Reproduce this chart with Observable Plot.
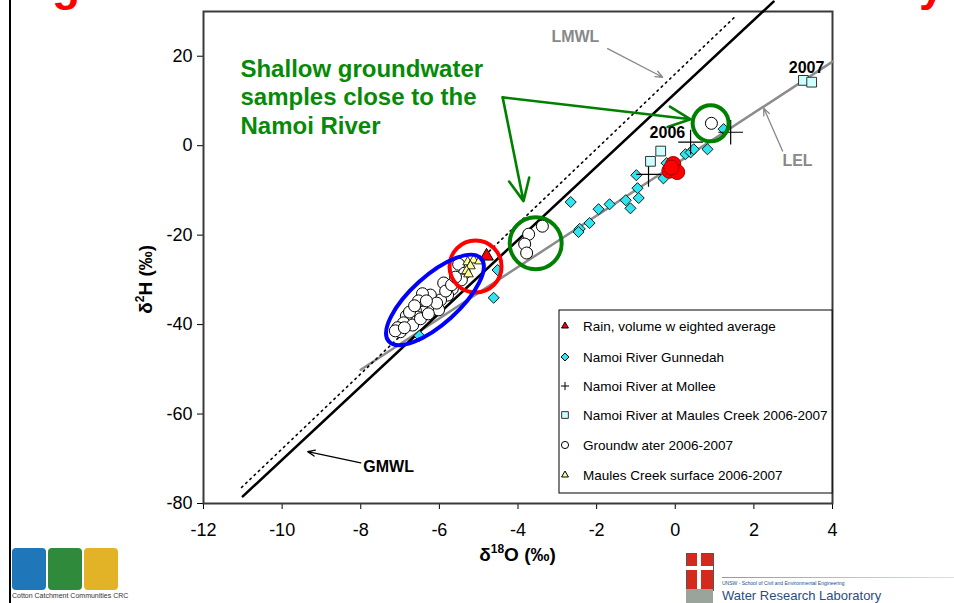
<!DOCTYPE html>
<html>
<head>
<meta charset="utf-8">
<script src="https://cdn.jsdelivr.net/npm/d3@7"></script>
<script src="https://cdn.jsdelivr.net/npm/@observablehq/plot@0.6"></script>
<style>
html,body{margin:0;padding:0;background:#fff;width:954px;height:603px;overflow:hidden;position:relative;font-family:"Liberation Sans",Arial,sans-serif}
#chart{position:absolute;left:0;top:0;width:954px;height:603px}
.slideline{position:absolute;left:9px;top:0;width:2px;height:603px;background:#000}
.frag{position:absolute;color:#ff0000;font-weight:bold;font-size:46px;line-height:46px}
.logo{position:absolute;border-radius:4px}
.cap{position:absolute;font-size:7px;color:#1b4f8a;white-space:nowrap}
</style>
</head>
<body>
<div class="slideline"></div>
<div class="frag" style="left:52px;top:-39px">g</div>
<div class="frag" style="left:919px;top:-39px">y</div>
<div id="chart"></div>
<div class="logo" style="left:12px;top:548px;width:34px;height:42px;background:#1f76b8"></div>
<div class="logo" style="left:48px;top:548px;width:34px;height:42px;background:#2f8a3c"></div>
<div class="logo" style="left:84px;top:548px;width:34px;height:42px;background:#e2b227"></div>
<div class="cap" style="left:12px;top:592px;font-size:7px;color:#333">Cotton Catchment Communities CRC</div>
<div style="position:absolute;left:686px;top:553px;width:26px;height:36px;background:#d42a1e;border:1px solid #555"></div>
<div style="position:absolute;left:697px;top:553px;width:4px;height:36px;background:#fff"></div>
<div style="position:absolute;left:686px;top:566px;width:27px;height:4px;background:#fff"></div>
<div style="position:absolute;left:686px;top:589px;width:27px;height:14px;background:#9aa49a"></div>
<div style="position:absolute;left:722px;top:577px;width:232px;height:1px;background:linear-gradient(to right,#8899bb,#dde)"></div>
<div class="cap" style="left:722px;top:580px;font-size:5px">UNSW - School of Civil and Environmental Engineering</div>
<div class="cap" style="left:722px;top:588px;font-size:13px;color:#2a4d80">Water Research Laboratory</div>
<script>
// ---- axis ticks ----
const xTicks = [-12, -10, -8, -6, -4, -2, 0, 2, 4];
const yTicks = [-80, -60, -40, -20, 0, 20];

// ---- reference lines ----
const gmwlX = [-11, 2.5];     const gmwlY = [-78.4, 32.2];
const lmwlX = [-11.03, 1.53]; const lmwlY = [-76.4, 28.9];
const lelX  = [-8.0, 4.0];    const lelY  = [-50.1, 18.8];

// ---- series ----
const rainAvgX = [-4.8]; const rainAvgY = [-24.7];
const rainSampX = [-0.05, -0.15, 0.05, -0.1];
const rainSampY = [-4.1, -5.6, -5.9, -4.9];
const gunX = [-6.51,-4.62,-4.52,-2.66,-2.43,-2.46,-2.18,-1.95,-1.67,-1.26,-1.14,-0.96,-0.93,-0.99,-0.30,-0.22,0.26,0.39,0.47,0.82,1.23];
const gunY = [-42.5,-34.0,-27.8,-12.6,-18.6,-19.3,-17.3,-14.2,-13.1,-12.2,-14.0,-9.5,-11.7,-6.6,-7.3,-3.9,-1.9,-1.5,-0.8,-0.8,3.7];
const molX = [-0.68, 0.39, 1.41];
const molY = [-6.4, 0.8, 3.0];
const mcX = [-0.37, -0.63, 3.26, 3.47];
const mcY = [-1.2, -3.5, 14.6, 14.2];
const gwX = [-5.51,-5.36,-5.44,-5.89,-5.67,-5.79,-5.97,-6.23,-6.43,-6.15,-6.02,-6.30,-6.40,-6.61,-6.56,-6.73,-6.84,-6.91,-7.06,-6.99,-7.12,-6.68,-6.48,-6.28,-6.07,-5.84,-5.69,-5.59,-6.53,-6.76,-6.89,-6.63,-6.33,-3.38,-3.73,-3.83,-3.78,0.92];
const gwY = [-26.5,-28.5,-30.0,-30.7,-32.0,-33.4,-34.5,-33.4,-33.1,-35.8,-36.7,-36.3,-37.2,-36.9,-38.3,-39.2,-38.1,-39.6,-40.7,-41.6,-41.4,-40.1,-38.7,-37.6,-35.2,-32.5,-31.1,-29.4,-34.7,-37.2,-40.7,-35.8,-34.7,-18.0,-19.8,-22.0,-24.0,5.0];
const sfX = [-5.28,-5.13,-4.98,-5.21,-5.31,-5.26];
const sfY = [-26.0,-25.6,-25.8,-26.9,-28.0,-28.7];

// ---- legend labels ----
const legendLabels = [
  "Rain, volume w eighted average",
  "Namoi River Gunnedah",
  "Namoi River at Mollee",
  "Namoi River at Maules Creek 2006-2007",
  "Groundw ater 2006-2007",
  "Maules Creek surface 2006-2007"
];

// ---- annotations ----
const noteText = ["LMWL", "LEL", "GMWL", "2006", "2007"];
const noteX = [-2.54, 3.11, -7.29, -0.2, 3.34];
const noteY = [24.4, -3.5, -71.7, 2.8, 17.5];
const noteColor = ["#888888", "#888888", "#000000", "#000000", "#000000"];
const calloutText = "Shallow groundwater\nsamples close to the\nNamoi River";

const rows = (xs, ys) => xs.map((x, i) => ({x, y: ys[i]}));
const notes = noteText.map((t, i) => ({t, x: noteX[i], y: noteY[i], c: noteColor[i]}));

const font = '"Liberation Sans", Arial, sans-serif';

const chart = Plot.plot({
  width: 954, height: 603,
  marginLeft: 203, marginRight: 122, marginTop: 11, marginBottom: 100,
  style: {fontFamily: font, fontSize: "18px", color: "#000", background: "transparent", overflow: "visible"},
  x: {domain: [-12, 4], ticks: xTicks, tickSize: 6, tickPadding: 14, tickFormat: d => String(d), label: null},
  y: {domain: [-80, 30], ticks: yTicks, tickSize: 6, tickPadding: 5, tickFormat: d => String(d), label: null},
  marks: [
    Plot.frame({stroke: "#3a3a3a", strokeWidth: 2}),
    Plot.line(rows(lelX, lelY), {x: "x", y: "y", stroke: "#8c8c8c", strokeWidth: 2.5}),
    Plot.line(rows(lmwlX, lmwlY), {x: "x", y: "y", stroke: "#000", strokeWidth: 1.6, strokeDasharray: "1.6,4.2"}),
    Plot.line(rows(gmwlX, gmwlY), {x: "x", y: "y", stroke: "#000", strokeWidth: 2.6}),
    Plot.dot(rows(gunX, gunY), {x: "x", y: "y", symbol: "diamond2", r: 5, fill: "#2ee6f0", stroke: "#1a1a1a", strokeWidth: 1}),
    Plot.dot(rows(molX, molY), {x: "x", y: "y", symbol: "plus", r: 8, stroke: "#000", strokeWidth: 1.2}),
    Plot.dot(rows(mcX, mcY), {x: "x", y: "y", symbol: "square", r: 5.5, fill: "#ccffff", stroke: "#333", strokeWidth: 1}),
    Plot.dot(rows(gwX, gwY), {x: "x", y: "y", symbol: "circle", r: 6, fill: "#fff", stroke: "#000", strokeWidth: 1}),
    Plot.dot(rows(rainSampX, rainSampY), {x: "x", y: "y", symbol: "circle", r: 7.5, fill: "#ff0000", stroke: "#a00000", strokeWidth: 1}),
    Plot.dot(rows(sfX, sfY), {x: "x", y: "y", symbol: "triangle", r: 3.6, fill: "#ffff99", stroke: "#000", strokeWidth: 0.8}),
    Plot.dot(rows(rainAvgX, rainAvgY), {x: "x", y: "y", symbol: "triangle", r: 5, fill: "#ff0000", stroke: "#000", strokeWidth: 1}),
    // highlight circles
    Plot.dot([{x: -5.08, y: -27.0}], {x: "x", y: "y", r: 26, fill: "none", stroke: "#ff0000", strokeWidth: 4}),
    Plot.dot([{x: -3.55, y: -21.8}], {x: "x", y: "y", r: 26, fill: "none", stroke: "#008000", strokeWidth: 4}),
    Plot.dot([{x: 0.90, y: 5.0}], {x: "x", y: "y", r: 18, fill: "none", stroke: "#008000", strokeWidth: 4}),
    // arrows
    Plot.arrow([
      {x1: -1.72, y1: 21.7, x2: -0.32, y2: 15.3, c: "#888"},
      {x1: 2.73, y1: -1.2, x2: 2.25, y2: 8.4, c: "#888"},
      {x1: -8.0, y1: -70.9, x2: -9.35, y2: -68.4, c: "#000"}
    ], {x1: "x1", y1: "y1", x2: "x2", y2: "y2", stroke: "c", strokeWidth: 1.3, headLength: 9, headAngle: 45}),
    Plot.arrow([
      {x1: -4.39, y1: 10.8, x2: 0.39, y2: 5.9},
      {x1: -4.39, y1: 10.8, x2: -3.86, y2: -12.4}
    ], {x1: "x1", y1: "y1", x2: "x2", y2: "y2", stroke: "#008000", strokeWidth: 2.6, headLength: 14, headAngle: 50}),
    // labels
    Plot.text(notes, {x: "x", y: "y", text: "t", fill: "c", fontSize: 16, fontWeight: "bold", textAnchor: "middle", lineAnchor: "middle"}),
    Plot.text([{x: -11.06, y: 20.0}], {x: "x", y: "y", text: () => calloutText, fill: "#078a07", fontSize: 24, fontWeight: "bold", textAnchor: "start", lineAnchor: "top", lineHeight: 1.2})
  ]
});

document.getElementById("chart").appendChild(chart);

const sx = chart.scale("x"), sy = chart.scale("y");
const X = v => sx.apply(v), Y = v => sy.apply(v);
const svg = d3.select(chart);

// blue ellipse around the groundwater cluster
const ecx = X(-6.10), ecy = Y(-34.6);
svg.append("ellipse")
  .attr("cx", ecx).attr("cy", ecy).attr("rx", 62).attr("ry", 24)
  .attr("transform", `rotate(-42 ${ecx} ${ecy})`)
  .attr("fill", "none").attr("stroke", "#0000ff").attr("stroke-width", 4);

// axis titles
const xt = svg.append("text").attr("x", X(-4)).attr("y", 561)
  .attr("text-anchor", "middle").attr("font-weight", "bold").attr("font-size", 19).attr("fill", "#000");
xt.append("tspan").text("δ");
xt.append("tspan").attr("font-size", 12).attr("dy", -8).text("18");
xt.append("tspan").attr("dy", 8).text("O (‰)");

const yt = svg.append("text").attr("transform", `translate(152, ${Y(-30)}) rotate(-90)`)
  .attr("text-anchor", "middle").attr("font-weight", "bold").attr("font-size", 19).attr("fill", "#000");
yt.append("tspan").text("δ");
yt.append("tspan").attr("font-size", 12).attr("dy", -8).text("2");
yt.append("tspan").attr("dy", 8).text("H (‰)");

// legend
const lg = svg.append("g").attr("transform", "translate(559,310)").attr("text-anchor", "start");
lg.append("rect").attr("width", 273).attr("height", 183).attr("fill", "#fff").attr("stroke", "#000").attr("stroke-width", 1);
const rowY = [16, 47, 76, 105, 135, 165];
const sym = [
  {t: d3.symbolTriangle2, s: 34, f: "#ff0000", k: "#000"},
  {t: d3.symbolDiamond2, s: 40, f: "#2ee6f0", k: "#000"},
  {t: d3.symbolPlus, s: 24, f: "none", k: "#000"},
  {t: d3.symbolSquare, s: 45, f: "#ccffff", k: "#333"},
  {t: d3.symbolCircle, s: 40, f: "#fff", k: "#000"},
  {t: d3.symbolTriangle2, s: 34, f: "#ffff99", k: "#000"}
];
legendLabels.forEach((lab, i) => {
  lg.append("path").attr("d", d3.symbol(sym[i].t, sym[i].s)())
    .attr("transform", `translate(6,${rowY[i]})`)
    .attr("fill", sym[i].f).attr("stroke", sym[i].k).attr("stroke-width", 1);
  lg.append("text").attr("x", 24).attr("y", rowY[i]).attr("dy", "0.36em")
    .attr("text-anchor", "start")
    .attr("font-size", 13.5).attr("fill", "#000").text(lab);
});
</script>
</body>
</html>
